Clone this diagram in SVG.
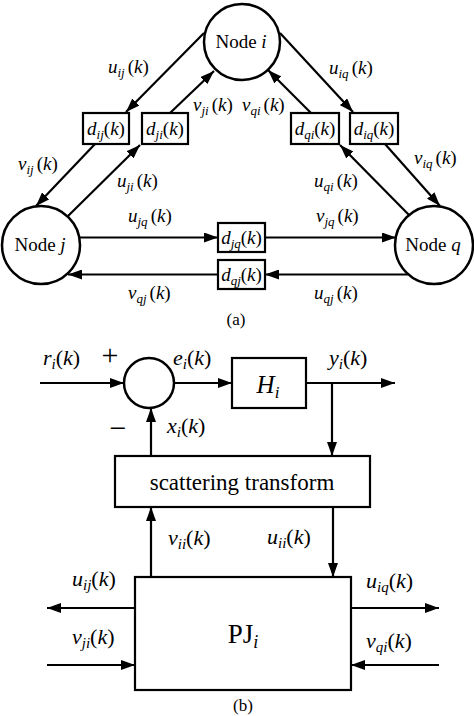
<svg xmlns="http://www.w3.org/2000/svg" width="474" height="716" viewBox="0 0 474 716">
<defs>
<marker id="ah" viewBox="0 0 14 10" refX="14" refY="5" markerWidth="14" markerHeight="10" markerUnits="userSpaceOnUse" orient="auto"><path d="M0,0 L14,5 L0,10 z" fill="#000"/></marker>
<style>
.t{font-family:"Liberation Serif","Times New Roman",serif;fill:#000}
.a{font-size:19px}
.n{font-size:19px}
.b{font-size:22px}
.s{font-size:13px}
.sb{font-size:15px}
.i{font-style:italic}
.ar{stroke:#000;stroke-width:2.2;fill:none;marker-end:url(#ah)}
.bx{stroke:#000;stroke-width:2.2;fill:#fff}
.nd{stroke:#000;stroke-width:2.5;fill:#fff}
</style>
</defs>
<rect width="474" height="716" fill="#fff"/>

<g id="connectors">
<path class="ar" d="M204,33 L126,112"/>
<path class="ar" d="M170,113 L214,71"/>
<path class="ar" d="M280,33 L353,112"/>
<path class="ar" d="M311,113 L268,70"/>
<path class="ar" d="M95,144 L36,206"/>
<path class="ar" d="M68,216 L140,145"/>
<path class="ar" d="M385,144 L440,206"/>
<path class="ar" d="M409,215 L340,145"/>
<path class="ar" d="M80,237.5 L218,237.5"/>
<path class="ar" d="M265,237.5 L396,237.5"/>
<path class="ar" d="M218,274.5 L68,274.5"/>
<path class="ar" d="M408,274.5 L265,274.5"/>
<path class="ar" d="M40,383 L124,383"/>
<path class="ar" d="M174,383 L232,383"/>
<path class="ar" d="M306,383 L395,383"/>
<path class="ar" d="M332,383 L332,456"/>
<path class="ar" d="M151,456 L151,408"/>
<path class="ar" d="M151,577 L151,507"/>
<path class="ar" d="M333,507 L333,577"/>
<path class="ar" d="M135,608 L47,608"/>
<path class="ar" d="M47,665 L135,665"/>
<path class="ar" d="M351,608 L439,608"/>
<path class="ar" d="M439,665 L351,665"/>
</g>

<g id="node-i"><circle class="nd" cx="242" cy="42" r="38"/><text class="t n" x="241" y="48" text-anchor="middle">Node <tspan class="i">i</tspan></text></g>
<g id="node-j"><circle class="nd" cx="41" cy="245" r="39"/><text class="t n" x="40" y="251" text-anchor="middle">Node <tspan class="i">j</tspan></text></g>
<g id="node-q"><circle class="nd" cx="434" cy="245" r="39"/><text class="t n" x="433" y="251" text-anchor="middle">Node <tspan class="i">q</tspan></text></g>

<g id="d-ij"><rect class="bx" x="83" y="113" width="46" height="31"/><text class="t a" x="106" y="135" text-anchor="middle"><tspan class="i">d</tspan><tspan class="s i" dy="4">ij</tspan><tspan dy="-4">(</tspan><tspan class="i">k</tspan>)</text></g>
<g id="d-ji"><rect class="bx" x="142" y="113" width="46" height="31"/><text class="t a" x="165" y="135" text-anchor="middle"><tspan class="i">d</tspan><tspan class="s i" dy="4">ji</tspan><tspan dy="-4">(</tspan><tspan class="i">k</tspan>)</text></g>
<g id="d-qi"><rect class="bx" x="291" y="113" width="48" height="31"/><text class="t a" x="315" y="135" text-anchor="middle"><tspan class="i">d</tspan><tspan class="s i" dy="4">qi</tspan><tspan dy="-4">(</tspan><tspan class="i">k</tspan>)</text></g>
<g id="d-iq"><rect class="bx" x="350" y="113" width="48" height="31"/><text class="t a" x="374" y="135" text-anchor="middle"><tspan class="i">d</tspan><tspan class="s i" dy="4">iq</tspan><tspan dy="-4">(</tspan><tspan class="i">k</tspan>)</text></g>
<g id="d-jq"><rect class="bx" x="218" y="223" width="47" height="29"/><text class="t a" x="241.5" y="244" text-anchor="middle"><tspan class="i">d</tspan><tspan class="s i" dy="4">jq</tspan><tspan dy="-4">(</tspan><tspan class="i">k</tspan>)</text></g>
<g id="d-qj"><rect class="bx" x="218" y="260" width="47" height="29"/><text class="t a" x="241.5" y="281" text-anchor="middle"><tspan class="i">d</tspan><tspan class="s i" dy="4">qj</tspan><tspan dy="-4">(</tspan><tspan class="i">k</tspan>)</text></g>

<g id="labels-a">
<text class="t a" x="108" y="73"><tspan class="i">u</tspan><tspan class="s i" dy="4">ij</tspan><tspan dy="-4" dx="3">(</tspan><tspan class="i">k</tspan>)</text>
<text class="t a" x="193" y="111"><tspan class="i">v</tspan><tspan class="s i" dy="4">ji</tspan><tspan dy="-4" dx="3">(</tspan><tspan class="i">k</tspan>)</text>
<text class="t a" x="242" y="111"><tspan class="i">v</tspan><tspan class="s i" dy="4">qi</tspan><tspan dy="-4" dx="3">(</tspan><tspan class="i">k</tspan>)</text>
<text class="t a" x="329" y="74"><tspan class="i">u</tspan><tspan class="s i" dy="4">iq</tspan><tspan dy="-4" dx="3">(</tspan><tspan class="i">k</tspan>)</text>
<text class="t a" x="18" y="170"><tspan class="i">v</tspan><tspan class="s i" dy="4">ij</tspan><tspan dy="-4" dx="3">(</tspan><tspan class="i">k</tspan>)</text>
<text class="t a" x="117" y="187"><tspan class="i">u</tspan><tspan class="s i" dy="4">ji</tspan><tspan dy="-4" dx="3">(</tspan><tspan class="i">k</tspan>)</text>
<text class="t a" x="414" y="164"><tspan class="i">v</tspan><tspan class="s i" dy="4">iq</tspan><tspan dy="-4" dx="3">(</tspan><tspan class="i">k</tspan>)</text>
<text class="t a" x="314" y="187"><tspan class="i">u</tspan><tspan class="s i" dy="4">qi</tspan><tspan dy="-4" dx="3">(</tspan><tspan class="i">k</tspan>)</text>
<text class="t a" x="128" y="222"><tspan class="i">u</tspan><tspan class="s i" dy="4">jq</tspan><tspan dy="-4" dx="3">(</tspan><tspan class="i">k</tspan>)</text>
<text class="t a" x="316" y="222"><tspan class="i">v</tspan><tspan class="s i" dy="4">jq</tspan><tspan dy="-4" dx="3">(</tspan><tspan class="i">k</tspan>)</text>
<text class="t a" x="128" y="299"><tspan class="i">v</tspan><tspan class="s i" dy="4">qj</tspan><tspan dy="-4" dx="3">(</tspan><tspan class="i">k</tspan>)</text>
<text class="t a" x="314" y="299"><tspan class="i">u</tspan><tspan class="s i" dy="4">qj</tspan><tspan dy="-4" dx="3">(</tspan><tspan class="i">k</tspan>)</text>
<text class="t" font-size="17" x="236" y="325" text-anchor="middle">(a)</text>
</g>

<g id="sum"><circle class="nd" cx="149" cy="383" r="25"/></g>
<g id="H"><rect class="bx" x="232" y="358" width="74" height="50"/><text class="t" font-size="25" x="268" y="393" text-anchor="middle"><tspan class="i">H</tspan><tspan class="i" font-size="17" dy="5">i</tspan></text></g>
<g id="scattering"><rect class="bx" x="115" y="456" width="255" height="51"/><text class="t" font-size="23" x="242" y="490" text-anchor="middle">scattering transform</text></g>
<g id="PJ"><rect class="bx" x="135" y="577" width="216" height="113"/><text class="t" font-size="27" x="243" y="643" text-anchor="middle">PJ<tspan class="i" font-size="18" dy="5">i</tspan></text></g>

<g id="labels-b">
<text class="t b" x="43" y="365"><tspan class="i">r</tspan><tspan class="sb i" dy="4">i</tspan><tspan dy="-4">(</tspan><tspan class="i">k</tspan>)</text>
<text class="t" font-size="30" x="110" y="365" text-anchor="middle">+</text>
<text class="t b" x="173" y="365"><tspan class="i">e</tspan><tspan class="sb i" dy="4">i</tspan><tspan dy="-4">(</tspan><tspan class="i">k</tspan>)</text>
<text class="t b" x="329" y="365"><tspan class="i">y</tspan><tspan class="sb i" dy="4">i</tspan><tspan dy="-4">(</tspan><tspan class="i">k</tspan>)</text>
<text class="t" font-size="30" x="118" y="438" text-anchor="middle">−</text>
<text class="t b" x="167" y="433"><tspan class="i">x</tspan><tspan class="sb i" dy="4">i</tspan><tspan dy="-4">(</tspan><tspan class="i">k</tspan>)</text>
<text class="t b" x="168" y="545"><tspan class="i">v</tspan><tspan class="sb i" dy="4">ii</tspan><tspan dy="-4">(</tspan><tspan class="i">k</tspan>)</text>
<text class="t b" x="267" y="544"><tspan class="i">u</tspan><tspan class="sb i" dy="4">ii</tspan><tspan dy="-4">(</tspan><tspan class="i">k</tspan>)</text>
<text class="t b" x="72" y="586"><tspan class="i">u</tspan><tspan class="sb i" dy="4">ij</tspan><tspan dy="-4">(</tspan><tspan class="i">k</tspan>)</text>
<text class="t b" x="72" y="644"><tspan class="i">v</tspan><tspan class="sb i" dy="4">ji</tspan><tspan dy="-4">(</tspan><tspan class="i">k</tspan>)</text>
<text class="t b" x="366" y="588"><tspan class="i">u</tspan><tspan class="sb i" dy="4">iq</tspan><tspan dy="-4">(</tspan><tspan class="i">k</tspan>)</text>
<text class="t b" x="366" y="648"><tspan class="i">v</tspan><tspan class="sb i" dy="4">qi</tspan><tspan dy="-4">(</tspan><tspan class="i">k</tspan>)</text>
<text class="t" font-size="17" x="243" y="711" text-anchor="middle">(b)</text>
</g>
</svg>
